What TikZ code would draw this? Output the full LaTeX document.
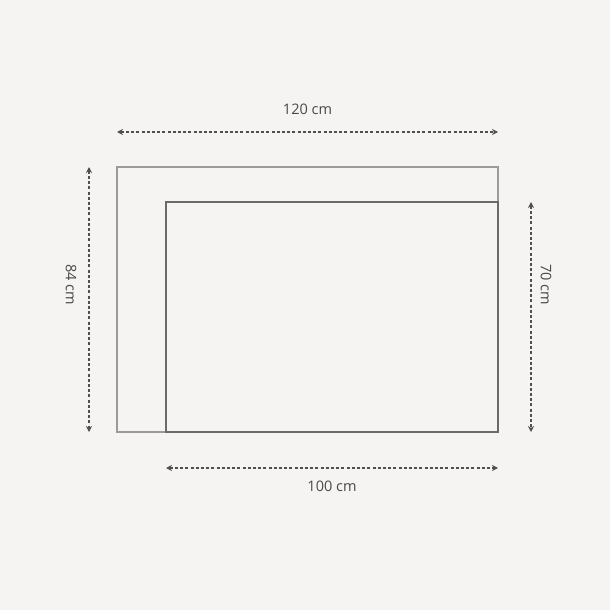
\documentclass[tikz,border=0pt]{standalone}
\usepackage{fontspec}
\setmainfont{Open Sans}
\usetikzlibrary{arrows.meta}
\definecolor{bg}{HTML}{F5F4F2}
\definecolor{outer}{HTML}{9A9A9A}
\definecolor{inner}{HTML}{6A6A6A}
\definecolor{dim}{HTML}{505050}
\begin{document}
\begin{tikzpicture}[x=1pt,y=-1pt,
  dimline/.style={draw=dim,line width=1.1pt,dash pattern=on 3pt off 2.2pt,{Stealth[length=6pt,width=6pt]}-{Stealth[length=6pt,width=6pt]}},
  lbl/.style={font=\fontsize{14.5}{17}\selectfont,text=dim!90!black,inner sep=0pt}]
\fill[bg] (0,0) rectangle (610,610);
\useasboundingbox (0,0) rectangle (610,610);
\draw[outer,line width=2pt] (117,167) rectangle (498,432);
\draw[inner,line width=2pt] (166,202) rectangle (498,432);
\coordinate (tl) at (117,132); \coordinate (tr) at (498,132);
\coordinate (lt) at (89,167); \coordinate (lb) at (89,432);
\coordinate (rt) at (531,202); \coordinate (rb) at (531,432);
\coordinate (bl) at (166,468); \coordinate (br) at (498,468);
\draw[dimline] (tl) -- (tr);
\draw[dimline] (lt) -- (lb);
\draw[dimline] (rt) -- (rb);
\draw[dimline] (bl) -- (br);
\node[lbl] (t120) at (307.5,109) {120 cm};
\node[lbl] (t100) at (332,486) {100 cm};
\node[lbl,rotate=-90] (t84) at (71,285) {84 cm};
\node[lbl,rotate=-90] (t70) at (546,285) {70 cm};
\end{tikzpicture}
\end{document}
